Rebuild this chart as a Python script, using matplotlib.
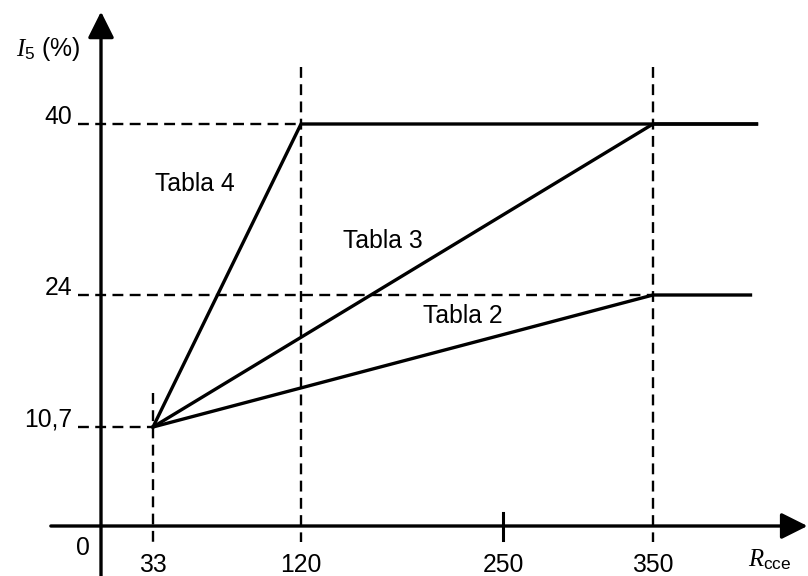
"""Piecewise I5 (%) limits versus Rcce for the three tables."""

from __future__ import annotations

import matplotlib

matplotlib.use("Agg")
import matplotlib.pyplot as plt
import numpy as np

# chart data
tabla_2_r = [33, 350, 415]
tabla_2_i5 = [10.7, 24, 24]
tabla_3_r = [33, 350, 419]
tabla_3_i5 = [10.7, 40, 40]
tabla_4_r = [33, 120, 419]
tabla_4_i5 = [10.7, 40, 40]

x_ticks = [33, 120, 250, 350]
x_tick_labels = ["33", "120", "250", "350"]
y_ticks = [10.7, 24, 40]
y_tick_labels = ["10,7", "24", "40"]

series_labels = ["Tabla 2", "Tabla 3", "Tabla 4"]

# the drawing is not to scale: these knots map values to picture position
X_KNOTS = [-200, 0, 33, 120, 250, 350, 600]
X_PIX = [-203, 101, 153, 301, 503, 653, 1028]
Y_KNOTS = [-20, 0, 10.7, 24, 40, 80]
Y_PIX = [-135, 50, 149, 281, 452, 880]

FONT = "Liberation Sans"
FS = 17.8


def x_fwd(v):
    return np.interp(v, X_KNOTS, X_PIX)


def x_inv(p):
    return np.interp(p, X_PIX, X_KNOTS)


def y_fwd(v):
    return np.interp(v, Y_KNOTS, Y_PIX)


def y_inv(p):
    return np.interp(p, Y_PIX, Y_KNOTS)


def draw_axes_arrows(ax):
    """Hand drawn looking axes with arrow heads."""
    arrow = dict(
        arrowstyle="-|>,head_length=0.8,head_width=0.4",
        mutation_scale=20,
        lw=2.4,
        color="black",
        shrinkA=0,
        shrinkB=0,
    )
    ax.annotate("", xy=(453, 0), xytext=(-33, 0), arrowprops=arrow)
    ax.annotate("", xy=(0, 50.5), xytext=(0, y_inv(-5)), arrowprops=arrow)


def draw_guides(ax):
    """Dashed helper lines and the lone tick at 250."""
    dash = dict(color="black", lw=1.7, dashes=(4.6, 2.7))
    ax.plot([-15, 120], [40, 40], **dash)
    ax.plot([-15, 350], [24, 24], **dash)
    ax.plot([-15, 33], [10.7, 10.7], **dash)
    ax.plot([33, 33], [14.1, -1.7], **dash)
    ax.plot([120, 120], [45.3, -1.7], **dash)
    ax.plot([350, 350], [45.3, -1.7], **dash)
    ax.plot([250, 250], [1.4, -1.5], color="black", lw=2.2)


def main() -> None:
    plt.rcParams["mathtext.fontset"] = "custom"
    plt.rcParams["mathtext.rm"] = "Liberation Sans"
    plt.rcParams["mathtext.it"] = "Liberation Serif:italic"
    fig = plt.figure(figsize=(8.08, 5.76), dpi=100)
    ax = fig.add_axes([0, 0, 1, 1])
    ax.set_xscale("function", functions=(x_fwd, x_inv))
    ax.set_yscale("function", functions=(y_fwd, y_inv))
    ax.set_xlim(x_inv(0), x_inv(808))
    ax.set_ylim(y_inv(0), y_inv(576))
    ax.axis("off")

    draw_guides(ax)
    draw_axes_arrows(ax)

    solid = dict(color="black", lw=2.4, solid_joinstyle="miter")
    ax.plot(tabla_2_r, tabla_2_i5, **solid)
    ax.plot(tabla_3_r, tabla_3_i5, **solid)
    ax.plot(tabla_4_r, tabla_4_i5, **solid)

    txt = dict(family=FONT, fontsize=FS, color="black")
    for v, lab in zip(x_ticks, x_tick_labels):
        ax.text(v, -5.0, lab, ha="center", va="baseline", **txt)
    for v, lab in zip(y_ticks, y_tick_labels):
        ax.text(-19, v, lab, ha="right", va="baseline", **txt)
    ax.text(-12, -3.1, "0", ha="center", va="baseline", **txt)

    ax.text(198.5, 21.2, series_labels[0], ha="left", va="baseline", **txt)
    ax.text(147, 28.4, series_labels[1], ha="left", va="baseline", **txt)
    ax.text(34.2, 33.7, series_labels[2], ha="left", va="baseline", **txt)

    ax.text(428, -4.4, r"$R_{\mathrm{cce}}$", ha="center", va="baseline", **txt)
    ax.text(-35, 46.4, r"$I_{\mathrm{5}}$ (%)", ha="center", va="baseline", **txt)

    fig.savefig("out.png", dpi=100)
    plt.close(fig)


if __name__ == "__main__":
    main()
